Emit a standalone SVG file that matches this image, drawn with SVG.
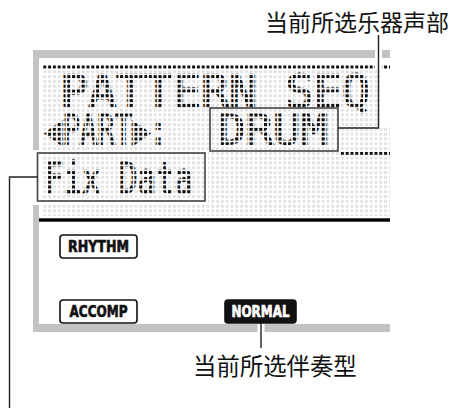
<svg xmlns="http://www.w3.org/2000/svg" width="454" height="408" viewBox="0 0 454 408">
<style>
.lcd{font-family:"DejaVu Sans Mono","Liberation Mono",monospace;fill:url(#lcdOn);stroke:url(#lcdOn);stroke-width:1.8}
.box{fill:none;stroke:#444;stroke-width:1.6}
.badge{stroke:#111;stroke-width:1.6}
.btxt{font-family:"DejaVu Sans Condensed","Liberation Sans",sans-serif;font-weight:bold;font-size:15px;text-anchor:middle;stroke-width:0.6}
.cjk{font-family:"Noto Sans CJK SC","Noto Sans",sans-serif;font-size:23px;fill:#111}
.lead{fill:none;stroke:#222;stroke-width:1.4}
.halo{fill:none;stroke:#fff;stroke-width:7}
</style>
<defs>
<pattern id="lcdOn" patternUnits="userSpaceOnUse" x="38.5" y="65.5" width="4.8" height="4.8"><rect width="3" height="3" fill="#111"/></pattern>
<pattern id="lcdOff" patternUnits="userSpaceOnUse" x="38.5" y="65.5" width="4.8" height="4.8"><rect width="3" height="3" fill="#e3e3e3"/></pattern>
</defs>
<rect width="454" height="408" fill="#fff"/>
<g id="panel">
<rect x="33" y="50" width="357" height="282" fill="#c3c3c3"/>
<rect x="39" y="58" width="351" height="266" fill="#fff"/>
<rect x="43" y="65" width="347" height="4" fill="url(#lcdOn)"/>
<rect x="43" y="70" width="347" height="146" fill="url(#lcdOff)"/>
<rect x="380" y="69" width="10" height="57" fill="#fff"/>
<rect x="340" y="151.5" width="50" height="4" fill="url(#lcdOn)"/>
<rect x="39" y="218.3" width="351" height="3.4" fill="#000"/>
</g>
<g id="lcd-text">
<text class="lcd" x="60" y="107" font-size="44" textLength="310" lengthAdjust="spacingAndGlyphs">PATTERN SEQ</text>
<text class="lcd" x="45" y="144" font-size="41" textLength="122" lengthAdjust="spacingAndGlyphs">◀PART▶:</text>
</g>
<g id="drum">
<rect class="box" x="210" y="108" width="128" height="43"/>
<text class="lcd" x="218" y="144" font-size="41" textLength="110" lengthAdjust="spacingAndGlyphs">DRUM</text>
</g>
<g id="fixdata">
<rect x="33" y="150" width="175" height="55" fill="#fff"/>
<rect x="43" y="152" width="162" height="50" fill="url(#lcdOff)"/>
<rect class="box" x="37.5" y="153" width="167.5" height="48"/>
<text class="lcd" x="45" y="193" font-size="42" textLength="148" lengthAdjust="spacingAndGlyphs">Fix Data</text>
</g>
<g id="rhythm">
<rect class="badge" x="60" y="235" width="77" height="23" rx="3" fill="#fff"/>
<text class="btxt" x="98.5" y="252" fill="#111" stroke="#111" textLength="61" lengthAdjust="spacingAndGlyphs">RHYTHM</text>
</g>
<g id="accomp">
<rect class="badge" x="60" y="300" width="77" height="23" rx="3" fill="#fff"/>
<text class="btxt" x="98.5" y="317" fill="#111" stroke="#111" textLength="58" lengthAdjust="spacingAndGlyphs">ACCOMP</text>
</g>
<g id="connectors">
<path class="halo" d="M378.5 40 V69"/>
<path class="halo" d="M261 324 V334"/>
<path class="lead" d="M338 128 H378.5 V35"/>
<path class="lead" d="M37.5 177 H9.5 V408"/>
<path class="lead" d="M261 323 V348"/>
</g>
<g id="normal">
<rect class="badge" x="225" y="300" width="71" height="23" rx="3" fill="#111"/>
<text class="btxt" x="260.5" y="317" fill="#fff" stroke="#fff" textLength="58" lengthAdjust="spacingAndGlyphs">NORMAL</text>
</g>
<g id="labels">
<text class="cjk" x="265" y="31">当前所选乐器声部</text>
<text class="cjk" x="193" y="375" style="font-size:23.4px">当前所选伴奏型</text>
</g>
</svg>
